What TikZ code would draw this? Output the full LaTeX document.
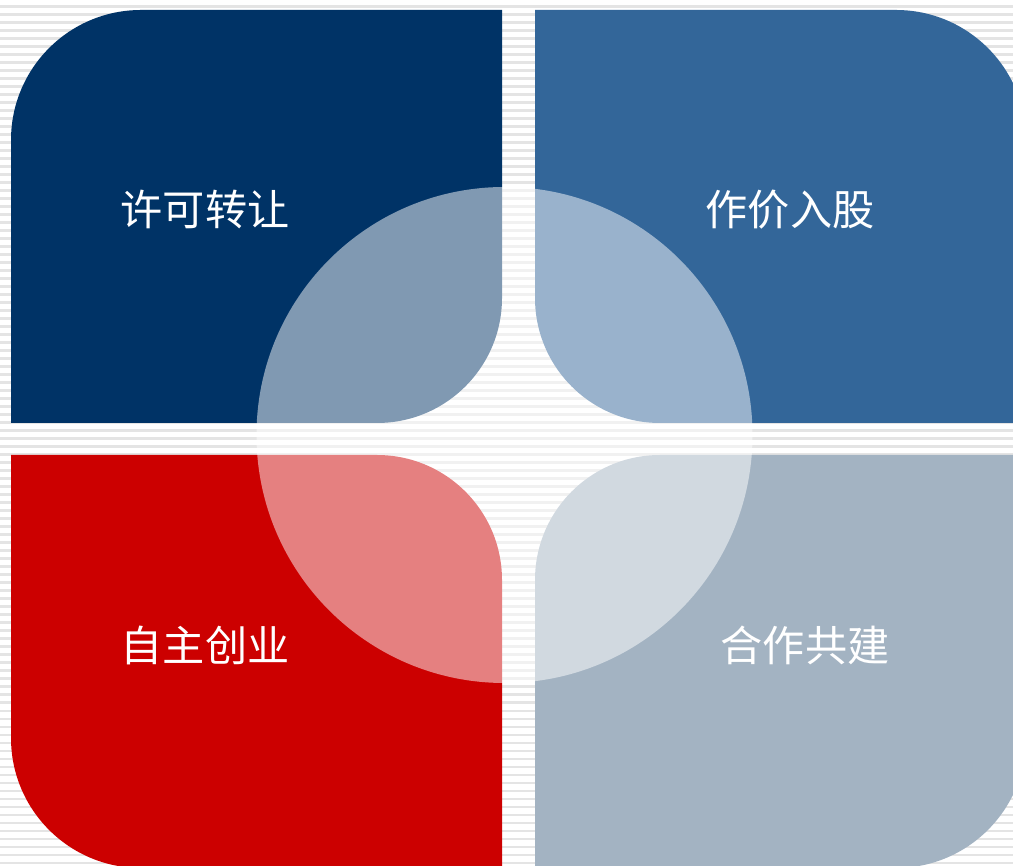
\documentclass[tikz,border=0pt]{standalone}
\usepackage{fontspec}
\usepackage{tikz}
\newfontfamily\cjk{Noto Sans CJK SC}
\definecolor{navy}{HTML}{003366}
\definecolor{steel}{HTML}{336699}
\definecolor{crimson}{HTML}{CC0000}
\definecolor{slate}{HTML}{A3B3C2}
\definecolor{stripe}{HTML}{E4E4E4}
\tikzset{label/.style={text=white, font=\cjk\fontsize{24}{28}\selectfont}}

\begin{document}
\begin{tikzpicture}[x=0.02cm, y=0.02cm]
   \useasboundingbox (0,0) rectangle (1013,865);
   \fill[white] (0,0) rectangle (1013,865);
   \foreach \y in {1,9,...,865}
      \fill[stripe] (0,\y) rectangle (1013,\y+2.5);

   \fill[navy] (11,442) -- (11,725) arc (180:90:130) -- (502,855) -- (502,567) arc (0:-90:125) -- cycle;
   \fill[steel] (535,855) -- (896,855) arc (90:0:130) -- (1026,442) -- (660,442) arc (270:180:125) -- cycle;
   \fill[crimson] (11,410) -- (11,127) arc (180:270:130) -- (502,-3) -- (502,285) arc (0:90:125) -- cycle;
   \fill[slate] (535,-3) -- (896,-3) arc (270:360:130) -- (1026,410) -- (660,410) arc (90:180:125) -- cycle;

   \fill[white, opacity=0.5] (504.5,430) circle (248);

   \node[label] (licence) at (205,655) {许可转让};
   \node[label] (equity) at (790,655) {作价入股};
   \node[label] (startup) at (205,220) {自主创业};
   \node[label] (jointbuild) at (805,220) {合作共建};
\end{tikzpicture}
\end{document}
